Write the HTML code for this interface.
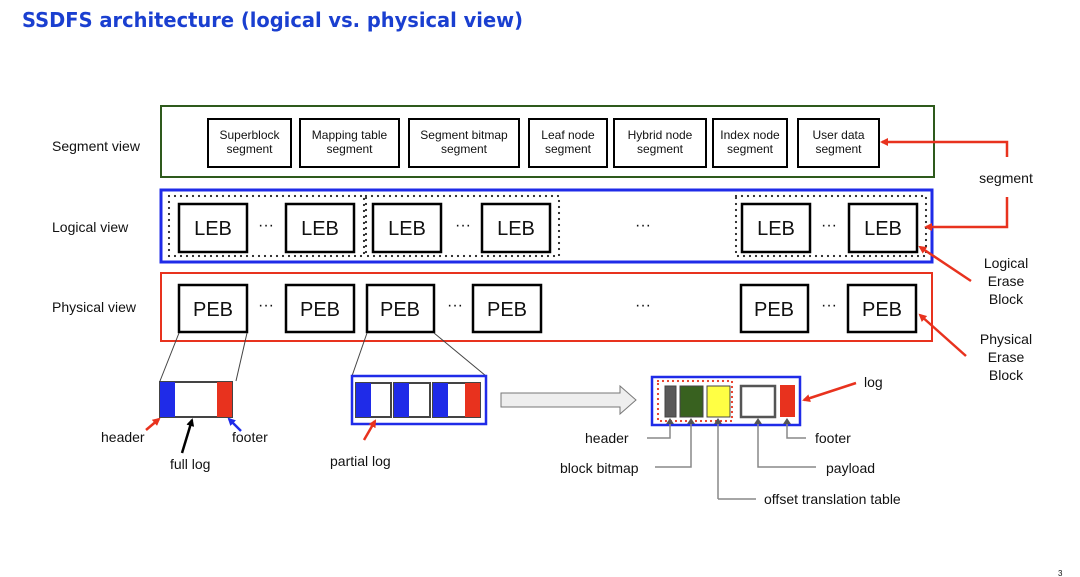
<!DOCTYPE html>
<html><head><meta charset="utf-8"><style>
html,body{margin:0;padding:0;background:#fff;}
svg{display:block;}
text{font-family:"Liberation Sans",Arial,sans-serif;fill:#111;}
</style></head><body>
<svg width="1080" height="577" viewBox="0 0 1080 577" xmlns="http://www.w3.org/2000/svg">
<defs>
<marker id="ar" markerWidth="8" markerHeight="8" refX="6" refY="4" orient="auto" markerUnits="userSpaceOnUse"><path d="M0,0 L8,4 L0,8 z" fill="#e8321e"/></marker>
<marker id="ab" markerWidth="8" markerHeight="8" refX="6" refY="4" orient="auto" markerUnits="userSpaceOnUse"><path d="M0,0 L8,4 L0,8 z" fill="#1f2be8"/></marker>
<marker id="ak" markerWidth="8" markerHeight="8" refX="6" refY="4" orient="auto" markerUnits="userSpaceOnUse"><path d="M0,0 L8,4 L0,8 z" fill="#000"/></marker>
</defs>
<text x="22" y="27" style="font-family:'DejaVu Sans',sans-serif;font-weight:bold;fill:#1a3fd0" font-size="20" textLength="501" lengthAdjust="spacingAndGlyphs">SSDFS architecture (logical vs. physical view)</text>

<g font-size="14">
<text x="52" y="151">Segment view</text>
<text x="52" y="232">Logical view</text>
<text x="52" y="312">Physical view</text>
</g>

<rect x="161" y="106" width="773" height="71" fill="none" stroke="#2e5a1c" stroke-width="2"/>
<g fill="#fff" stroke="#000" stroke-width="2">
<rect x="208" y="119" width="83" height="48"/>
<rect x="300" y="119" width="99" height="48"/>
<rect x="409" y="119" width="110" height="48"/>
<rect x="529" y="119" width="78" height="48"/>
<rect x="614" y="119" width="92" height="48"/>
<rect x="713" y="119" width="74" height="48"/>
<rect x="798" y="119" width="81" height="48"/>
</g>
<g font-size="12" text-anchor="middle">
<text x="249.5" y="139">Superblock</text><text x="249.5" y="153">segment</text>
<text x="349.5" y="139">Mapping table</text><text x="349.5" y="153">segment</text>
<text x="464" y="139">Segment bitmap</text><text x="464" y="153">segment</text>
<text x="568" y="139">Leaf node</text><text x="568" y="153">segment</text>
<text x="660" y="139">Hybrid node</text><text x="660" y="153">segment</text>
<text x="750" y="139">Index node</text><text x="750" y="153">segment</text>
<text x="838.5" y="139">User data</text><text x="838.5" y="153">segment</text>
</g>

<rect x="161" y="190" width="771" height="72" fill="none" stroke="#1f2be8" stroke-width="3"/>
<g fill="none" stroke="#222" stroke-width="2.2" stroke-dasharray="0,6" stroke-linecap="round">
<rect x="169" y="196" width="195" height="60"/>
<rect x="366" y="196" width="193" height="60"/>
<rect x="736" y="196" width="190" height="60"/>
</g>
<g fill="#fff" stroke="#000" stroke-width="2.5">
<rect x="179" y="204" width="68" height="48"/>
<rect x="286" y="204" width="68" height="48"/>
<rect x="373" y="204" width="68" height="48"/>
<rect x="482" y="204" width="68" height="48"/>
<rect x="742" y="204" width="68" height="48"/>
<rect x="849" y="204" width="68" height="48"/>
</g>
<g font-size="20" text-anchor="middle">
<text x="213" y="235">LEB</text><text x="320" y="235">LEB</text><text x="407" y="235">LEB</text><text x="516" y="235">LEB</text><text x="776" y="235">LEB</text><text x="883" y="235">LEB</text>
</g>
<g font-size="16" text-anchor="middle">
<text x="266" y="230">···</text><text x="463" y="230">···</text><text x="643" y="230">···</text><text x="829" y="230">···</text>
<text x="266" y="310">···</text><text x="455" y="310">···</text><text x="643" y="310">···</text><text x="829" y="310">···</text>
</g>

<rect x="161" y="273" width="771" height="68" fill="none" stroke="#e8321e" stroke-width="2"/>
<g fill="#fff" stroke="#000" stroke-width="2.5">
<rect x="179" y="285" width="68" height="47"/>
<rect x="286" y="285" width="68" height="47"/>
<rect x="367" y="285" width="67" height="47"/>
<rect x="473" y="285" width="68" height="47"/>
<rect x="741" y="285" width="67" height="47"/>
<rect x="848" y="285" width="68" height="47"/>
</g>
<g font-size="20" text-anchor="middle">
<text x="213" y="316">PEB</text><text x="320" y="316">PEB</text><text x="400" y="316">PEB</text><text x="507" y="316">PEB</text><text x="774" y="316">PEB</text><text x="882" y="316">PEB</text>
</g>

<g fill="none" stroke="#e8321e" stroke-width="2.5">
<polyline points="1007,157 1007,142 882,142" marker-end="url(#ar)"/>
<polyline points="1007,197 1007,227 926,227" marker-end="url(#ar)"/>
<line x1="971" y1="281" x2="920" y2="247" marker-end="url(#ar)"/>
<line x1="966" y1="356" x2="920" y2="315" marker-end="url(#ar)"/>
</g>
<g font-size="14" text-anchor="middle">
<text x="1006" y="183">segment</text>
<text x="1006" y="268">Logical</text><text x="1006" y="286">Erase</text><text x="1006" y="304">Block</text>
<text x="1006" y="344">Physical</text><text x="1006" y="362">Erase</text><text x="1006" y="380">Block</text>
</g>

<g stroke="#444" stroke-width="1" fill="none">
<line x1="179" y1="333" x2="160" y2="381"/><line x1="247" y1="333" x2="236" y2="381"/>
<line x1="367" y1="333" x2="352" y2="376"/><line x1="434" y1="333" x2="486" y2="376"/>
</g>
<rect x="160" y="382" width="72" height="35" fill="#fff" stroke="#444" stroke-width="2"/>
<rect x="160" y="382" width="15" height="35" fill="#1f2be8"/>
<rect x="217" y="382" width="15" height="35" fill="#e8321e"/>
<line x1="146" y1="430" x2="159" y2="419" stroke="#e8321e" stroke-width="2.5" marker-end="url(#ar)"/>
<line x1="182" y1="453" x2="192" y2="420" stroke="#000" stroke-width="2.5" marker-end="url(#ak)"/>
<line x1="241" y1="431" x2="229" y2="419" stroke="#1f2be8" stroke-width="2.5" marker-end="url(#ab)"/>
<g font-size="14">
<text x="101" y="442">header</text>
<text x="232" y="442">footer</text>
<text x="170" y="469">full log</text>
</g>

<rect x="352" y="376" width="134" height="48" fill="none" stroke="#1f2be8" stroke-width="2.5"/>
<g stroke="#444" stroke-width="2" fill="#fff">
<rect x="356" y="383" width="35" height="34"/><rect x="394" y="383" width="36" height="34"/><rect x="433" y="383" width="47" height="34"/>
</g>
<rect x="356" y="383" width="15" height="34" fill="#1f2be8"/>
<rect x="394" y="383" width="15" height="34" fill="#1f2be8"/>
<rect x="433" y="383" width="15" height="34" fill="#1f2be8"/>
<rect x="465" y="383" width="15" height="34" fill="#e8321e"/>
<line x1="364" y1="440" x2="375" y2="421" stroke="#e8321e" stroke-width="2.5" marker-end="url(#ar)"/>
<text x="330" y="466" font-size="14">partial log</text>

<path d="M501,393 L620,393 L620,386 L636,400 L620,414 L620,407 L501,407 z" fill="#eee" stroke="#777" stroke-width="1"/>

<rect x="652" y="377" width="148" height="48" fill="#fff" stroke="#1f2be8" stroke-width="2.5"/>
<rect x="658" y="381" width="74" height="40" fill="none" stroke="#e8321e" stroke-width="2.2" stroke-dasharray="0,5" stroke-linecap="round"/>
<rect x="665" y="386" width="11" height="31" fill="#595959" stroke="#444" stroke-width="1"/>
<rect x="680" y="386" width="23" height="31" fill="#38611f" stroke="#444" stroke-width="1"/>
<rect x="707" y="386" width="23" height="31" fill="#ffff44" stroke="#444" stroke-width="1"/>
<rect x="741" y="386" width="34" height="31" fill="#fff" stroke="#555" stroke-width="2.5"/>
<rect x="780" y="385" width="15" height="32" fill="#e8321e"/>
<line x1="856" y1="383" x2="804" y2="400" stroke="#e8321e" stroke-width="2.5" marker-end="url(#ar)"/>
<g fill="none" stroke="#888" stroke-width="1.5">
<polyline points="647,438 670,438 670,420"/>
<polyline points="655,467 691,467 691,420"/>
<polyline points="718,499 718,420"/>
<line x1="718" y1="499" x2="756" y2="499"/>
<polyline points="816,467 758,467 758,420"/>
<polyline points="806,438 787,438 787,420"/>
</g>
<g fill="#555">
<path d="M666,424 L670,418 L674,424z"/><path d="M687,424 L691,418 L695,424z"/><path d="M714,424 L718,418 L722,424z"/><path d="M754,424 L758,418 L762,424z"/><path d="M783,424 L787,418 L791,424z"/>
</g>
<g font-size="14">
<text x="864" y="387">log</text>
<text x="585" y="443">header</text>
<text x="815" y="443">footer</text>
<text x="560" y="473">block bitmap</text>
<text x="826" y="473">payload</text>
<text x="764" y="504">offset translation table</text>
</g>
<text x="1058" y="576" font-size="8">3</text>
</svg>
</body></html>
